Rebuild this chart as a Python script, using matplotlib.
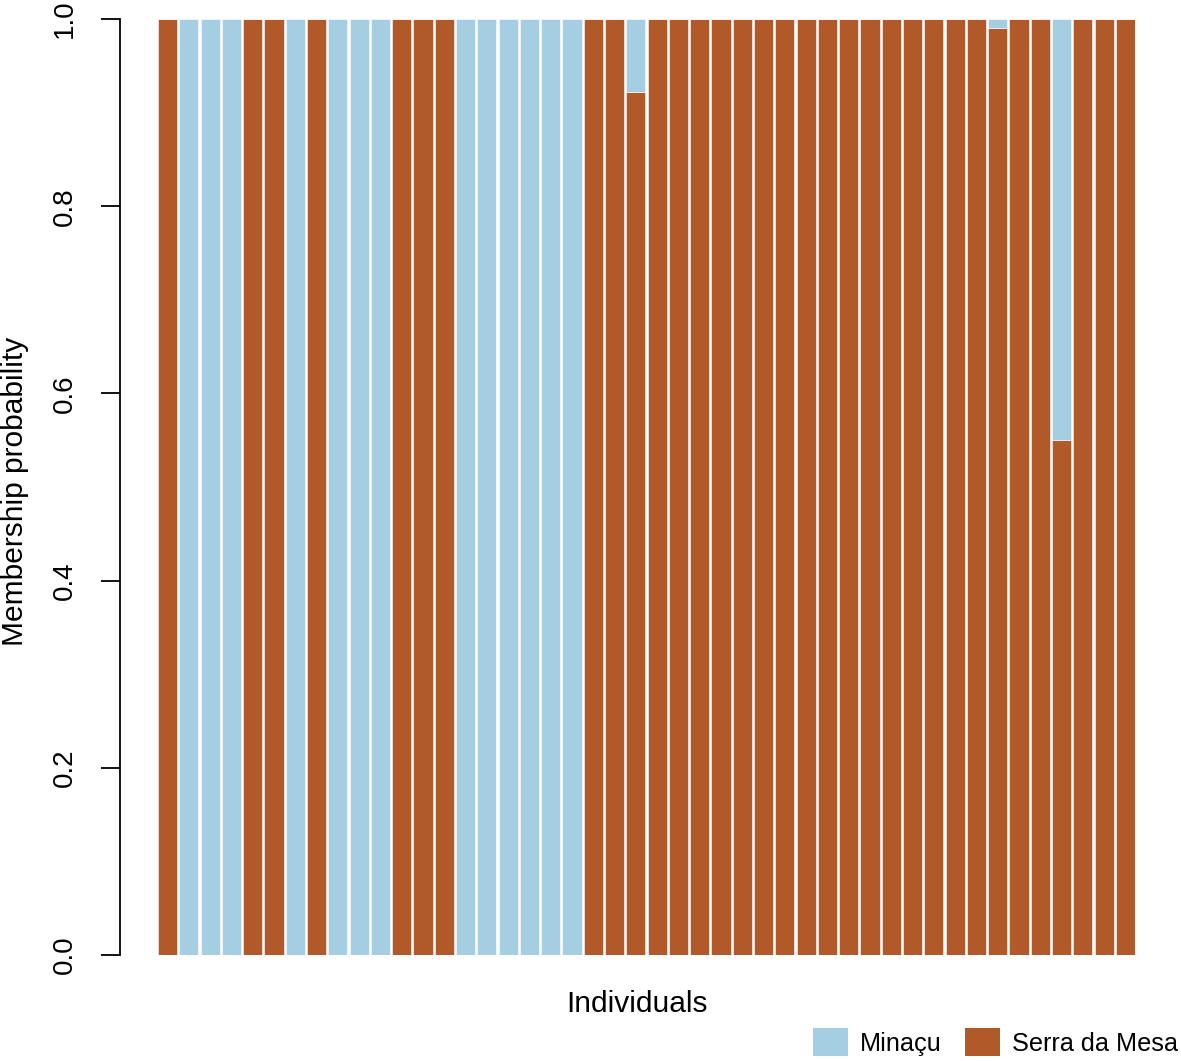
import matplotlib.pyplot as plt
from matplotlib.patches import Patch
import numpy as np

plt.rcParams['font.family'] = ['Liberation Sans', 'DejaVu Sans']

# membership probability of Serra da Mesa for each individual (46 individuals)
serra = np.array([1, 0, 0, 0, 1, 1, 0, 1, 0, 0,
                  0, 1, 1, 1, 0, 0, 0, 0, 0, 0,
                  1, 1, 0.922, 1, 1, 1, 1, 1, 1, 1,
                  1, 1, 1, 1, 1, 1, 1, 1, 1, 0.99,
                  1, 1, 0.55, 1, 1, 1])
minacu = 1 - serra

groups = ['Minaçu', 'Serra da Mesa']
colors = ['#A6CEE3', '#B15928']
yticks = [0.0, 0.2, 0.4, 0.6, 0.8, 1.0]

W, H = 1181, 1061
fig = plt.figure(figsize=(W / 100, H / 100), dpi=100)
ax = fig.add_axes([158 / W, 1 - 955 / H, (1135 - 158) / W, (955 - 19) / H])

x = np.arange(len(serra))
ax.bar(x, serra, width=0.9, color=colors[1], edgecolor='white', linewidth=0.4)
ax.bar(x, minacu, bottom=serra, width=0.9, color=colors[0],
       edgecolor='white', linewidth=0.4)

ax.set_xlim(-0.45, len(serra) - 0.55)
ax.set_ylim(0, 1)
for s in ['top', 'right', 'bottom']:
    ax.spines[s].set_visible(False)
# axis line sits ~38 px left of the first bar
ax.spines['left'].set_position(('outward', 38 * 0.72))
ax.spines['left'].set_linewidth(1.3)
ax.set_xticks([])
ax.set_yticks(yticks)
ax.set_yticklabels([f'{t:.1f}' for t in yticks], rotation=90, va='center')
ax.tick_params(axis='y', length=13.5, width=1.3, labelsize=20, pad=17)

fig.text(1 / W, 1 - 491 / H, 'Membership probability', rotation=90,
         ha='left', va='center', fontsize=21.5)
fig.text(637 / W, 1 - 1012 / H, 'Individuals', ha='center', va='baseline',
         fontsize=21.5)

handles = [Patch(facecolor=c, edgecolor='none') for c in colors]
fig.legend(handles, groups, ncol=2, frameon=False, loc='lower right',
           bbox_to_anchor=(1 - 3 / W, 5 / H), fontsize=18.2,
           handlelength=1.38, handleheight=1.3, handletextpad=0.47,
           columnspacing=0.95, borderaxespad=0, borderpad=0)

fig.savefig('out.png', dpi=100)
